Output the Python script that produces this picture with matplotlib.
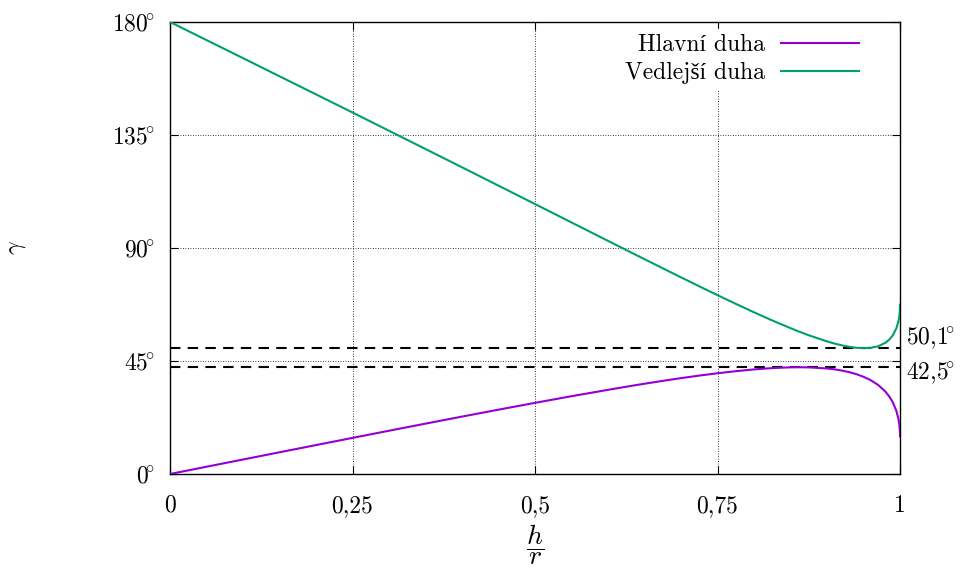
import matplotlib
matplotlib.use("Agg")
import matplotlib.pyplot as plt

# data (h/r -> rainbow angle in degrees)
h_r = [0.0, 0.05, 0.1, 0.15, 0.2, 0.25, 0.3, 0.35, 0.4, 0.45, 0.5, 0.55, 0.6, 0.625, 0.65, 0.675,
       0.7, 0.725, 0.75, 0.775, 0.8, 0.825, 0.85, 0.862, 0.875, 0.9, 0.91, 0.92, 0.93,
       0.94, 0.95, 0.96, 0.97, 0.98, 0.985, 0.99, 0.995, 0.998, 0.999, 0.9995, 0.9999, 1.0]
hlavni = [0.0, 2.89, 5.77, 8.65, 11.52, 14.38, 17.23, 20.06, 22.86, 25.62, 28.33, 30.98, 33.52, 34.76, 35.95, 37.09,
          38.18, 39.19, 40.12, 40.94, 41.65, 42.18, 42.48, 42.52, 42.47, 42.02, 41.69, 41.21, 40.59,
          39.79, 38.71, 37.34, 35.48, 32.81, 31.00, 28.64, 25.18, 21.74, 19.87, 18.50, 16.60, 15.01]
vedlejsi = [180.0, 172.80, 165.61, 158.39, 151.18, 143.96, 136.70, 129.42, 122.14, 114.83, 107.51, 100.17, 92.84,
            89.18, 85.54, 81.92, 78.31, 74.75, 71.22, 67.77, 64.39, 61.15, 58.08, 56.68, 55.25, 52.81, 51.96,
            51.26, 50.68, 50.27, 50.12, 50.26, 50.85, 52.26, 53.44, 55.16, 58.0, 61.01, 62.75, 64.06, 65.90, 67.48]
extremes = [50.1, 42.5]
extreme_labels = ["50,1", "42,5"]

xticks = [0, 0.25, 0.5, 0.75, 1]
xticklabels = ["0", "0,25", "0,5", "0,75", "1"]
yticks = [0, 45, 90, 135, 180]

plt.rcParams["font.family"] = ["cmr10", "Liberation Serif"]
plt.rcParams["mathtext.fontset"] = "cm"
plt.rcParams["axes.formatter.use_mathtext"] = True
plt.rcParams.update({"font.size": 17})

fig = plt.figure(figsize=(9.6, 5.71), dpi=100)
ax = fig.add_axes([170 / 960, 1 - 474 / 571, 730 / 960, 452 / 571])

ax.plot(h_r, hlavni, color="#9400d3", linewidth=1.5, label="Hlavní duha", zorder=3)
ax.plot(h_r, vedlejsi, color="#009e73", linewidth=1.5, label="Vedlejší duha", zorder=3)

# dashed lines at the extremes, labels nudged apart like the original
offsets = [7, -4]
for val, lab, dy in zip(extremes, extreme_labels, offsets):
    ax.plot([0, 1], [val, val], color="black", linewidth=1.5, dashes=(5, 3.5), zorder=2)
    ax.annotate(lab + r"$\!^{\circ}$", xy=(1, val), xytext=(4, dy), textcoords="offset points",
                ha="left", va="center", annotation_clip=False)

ax.set_xlim(0, 1)
ax.set_ylim(0, 180)
ax.set_xticks(xticks)
ax.set_xticklabels(xticklabels)
ax.set_yticks(yticks)
ax.set_yticklabels([r"$%d\!^{\circ}$" % t for t in yticks])
ax.tick_params(direction="in", top=True, right=True, length=6, width=0.8)
ax.tick_params(axis="x", pad=15)
ax.tick_params(axis="y", pad=11)
ax.grid(True, linestyle=(0, (1, 2)), color="black", linewidth=0.6)
for s in ax.spines.values():
    s.set_linewidth(1.0)

ax.set_xlabel(r"$\dfrac{h}{r}$", fontsize=20, labelpad=4)
ax.set_ylabel(r"$\gamma$", fontsize=17)
ax.yaxis.set_label_coords(-0.195, 0.5)

leg = ax.legend(loc="upper right", markerfirst=False, frameon=True, edgecolor="white", facecolor="white",
                framealpha=1, fancybox=False, handlelength=3.3, borderaxespad=0.3, borderpad=0.2,
                handletextpad=0.7, labelspacing=0.25, bbox_to_anchor=(0.96, 1.0))
leg.set_zorder(5)

fig.savefig("out.png", dpi=100)
